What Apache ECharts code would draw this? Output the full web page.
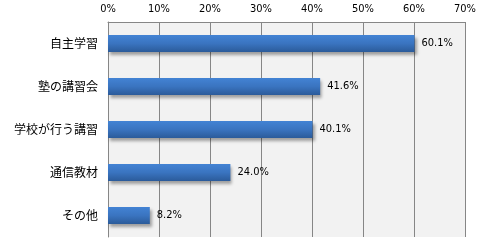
<!DOCTYPE html>
<html><head><meta charset="utf-8">
<script src="https://cdn.jsdelivr.net/npm/echarts@6/dist/echarts.min.js"></script>
<style>html,body{margin:0;padding:0;background:#fff}#c{width:493px;height:250px}</style>
</head><body><div id="c"></div>
<script>
const categories = ['自主学習', '塾の講習会', '学校が行う講習', '通信教材', 'その他'];
const values = [60.1, 41.6, 40.1, 24.0, 8.2];
const tickMin = 0, tickMax = 70, tickStep = 10;

const chart = echarts.init(document.getElementById('c'), null, {renderer: 'canvas'});
chart.setOption({
  animation: false,
  grid: {left: 108, right: 28, top: 22, bottom: 13, show: true, backgroundColor: '#f2f2f2', borderWidth: 0},
  xAxis: {
    type: 'value', position: 'top', min: tickMin, max: tickMax, interval: tickStep,
    axisLine: {show: true, lineStyle: {color: '#868686', width: 1}},
    axisTick: {show: false},
    splitLine: {show: true, lineStyle: {color: '#868686', width: 1}},
    axisLabel: {formatter: '{value}%', color: '#000', fontSize: 11, fontFamily: 'DejaVu Sans Condensed, Liberation Sans Narrow, sans-serif', margin: 7}
  },
  yAxis: {
    type: 'category', inverse: true, data: categories,
    axisLine: {show: true, lineStyle: {color: '#868686', width: 1}},
    axisTick: {show: false},
    axisLabel: {color: '#000', fontSize: 12, fontFamily: 'Noto Sans CJK JP, sans-serif', margin: 10}
  },
  series: [{
    type: 'bar', data: values, barWidth: 17,
    itemStyle: {
      color: new echarts.graphic.LinearGradient(0, 0, 0, 1, [
        {offset: 0, color: '#4383d4'}, {offset: 0.5, color: '#3a74c0'}, {offset: 1, color: '#2b5b9a'}
      ]),
      shadowColor: 'rgba(0,0,0,0.35)', shadowBlur: 3, shadowOffsetX: 2, shadowOffsetY: 3
    },
    label: {
      show: true, position: 'right', distance: 7, color: '#000', fontSize: 11,
      fontFamily: 'DejaVu Sans Condensed, Liberation Sans Narrow, sans-serif',
      formatter: p => p.value.toFixed(1) + '%'
    }
  }]
});
</script></body></html>
